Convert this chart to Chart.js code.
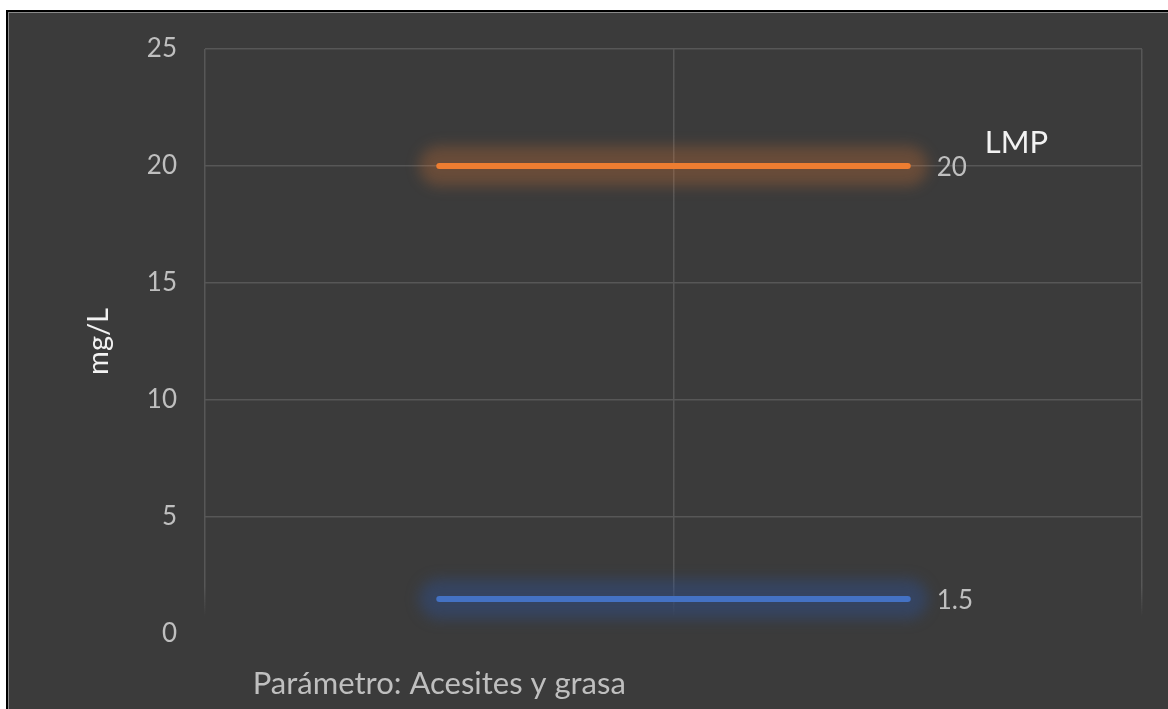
<!DOCTYPE html>
<html>
<head>
<meta charset="utf-8">
<script src="https://cdn.jsdelivr.net/npm/chart.js@4.4.1/dist/chart.umd.min.js"></script>
<style>
  html, body { margin: 0; padding: 0; background: #fff; overflow: hidden; }
  #wrap { position: relative; width: 1168px; height: 709px; }
  #frame {
    position: absolute; left: 6px; top: 10px; width: 1180px; height: 720px;
    background: #3b3b3b; border: 2px solid #000;
    box-shadow: inset 1px 1px 0 #8a8a8a;
  }
  #myChart { position: absolute; left: 0; top: 0; }
</style>
</head>
<body>
<div id="wrap">
  <div id="frame"></div>
  <canvas id="myChart" width="1168" height="709"></canvas>
</div>
<script>
let categories = ['Parámetro: Acesites y grasa', '']
let lmpValues = [20, 20]
let resultValues = [1.5, 1.5]
let yTicks = [0, 5, 10, 15, 20, 25]

let font = 'Lato, "Open Sans", sans-serif'
let gridColor = '#575757'

// soft wide halo drawn under each line
let glow = {
    id: 'glow',
    beforeDatasetDraw(chart, args) {
        let ds = chart.data.datasets[args.index]
        let pts = args.meta.data
        let ctx = chart.ctx
        ctx.save()
        ctx.filter = 'blur(7px)'
        ctx.strokeStyle = ds.glowColor
        ctx.lineWidth = 40
        ctx.lineCap = 'round'
        ctx.beginPath()
        pts.forEach((p, i) => i ? ctx.lineTo(p.x, p.y) : ctx.moveTo(p.x, p.y))
        ctx.stroke()
        ctx.restore()
    }
}

// value at the last point, plus the series name where asked
let endLabels = {
    id: 'endLabels',
    afterDatasetsDraw(chart) {
        let ctx = chart.ctx
        chart.data.datasets.forEach((ds, i) => {
            let pts = chart.getDatasetMeta(i).data
            let last = pts[pts.length - 1]
            let val = ds.data[ds.data.length - 1]
            ctx.save()
            ctx.font = '26px ' + font
            ctx.fillStyle = '#bfbfbf'
            ctx.textAlign = 'left'
            ctx.textBaseline = 'middle'
            ctx.fillText(String(val), last.x + 29, last.y + 2)
            if (ds.showName) {
                ctx.font = '31px ' + font
                ctx.fillStyle = '#f2f2f2'
                ctx.fillText(ds.label, last.x + 77, last.y - 23)
            }
            ctx.restore()
        })
    }
}

// vertical grid fades out just above the baseline
function xGridColor(c) {
    let area = c.chart.chartArea
    if (!area) return gridColor
    let g = c.chart.ctx.createLinearGradient(0, area.top, 0, area.bottom)
    g.addColorStop(0, gridColor)
    g.addColorStop(0.92, gridColor)
    g.addColorStop(0.97, 'rgba(87,87,87,0)')
    g.addColorStop(1, 'rgba(87,87,87,0)')
    return g
}

let chart = new Chart(document.getElementById('myChart'), {
    type: 'line',
    data: {
        labels: categories,
        datasets: [{
            label: 'LMP',
            data: lmpValues,
            borderColor: '#ed7d31',
            glowColor: 'rgba(237,125,49,0.26)',
            showName: true,
            borderWidth: 6,
            borderCapStyle: 'round',
            pointRadius: 0,
            tension: 0
        }, {
            label: 'Resultado',
            data: resultValues,
            borderColor: '#4472c4',
            glowColor: 'rgba(45,80,150,0.42)',
            showName: false,
            borderWidth: 6,
            borderCapStyle: 'round',
            pointRadius: 0,
            tension: 0
        }]
    },
    options: {
        responsive: false,
        animation: false,
        layout: {
            padding: { left: 0, right: 26, top: 49, bottom: 0 }
        },
        plugins: {
            legend: { display: false },
            tooltip: { enabled: false }
        },
        scales: {
            x: {
                offset: true,
                grid: {
                    offset: true,
                    color: xGridColor,
                    lineWidth: 1.5,
                    drawTicks: false
                },
                border: { display: false },
                ticks: {
                    color: '#bfbfbf',
                    font: { family: font, size: 31 },
                    padding: 31,
                    maxRotation: 0,
                    autoSkip: false
                },
                afterFit(s) { s.height = 75 }
            },
            y: {
                min: 0,
                max: 25,
                afterBuildTicks(s) { s.ticks = yTicks.map(v => ({ value: v })) },
                grid: {
                    color: c => c.tick && c.tick.value === 0 ? 'rgba(0,0,0,0)' : gridColor,
                    lineWidth: 1.5,
                    drawTicks: false
                },
                border: { display: false },
                ticks: {
                    color: '#bfbfbf',
                    font: { family: font, size: 26 },
                    padding: 28
                },
                title: {
                    display: true,
                    text: 'mg/L',
                    color: '#f2f2f2',
                    font: { family: font, size: 29 },
                    padding: { top: 81, bottom: 0 }
                },
                afterFit(s) { s.width = 205 }
            }
        }
    },
    plugins: [glow, endLabels]
})
</script>
</body>
</html>
